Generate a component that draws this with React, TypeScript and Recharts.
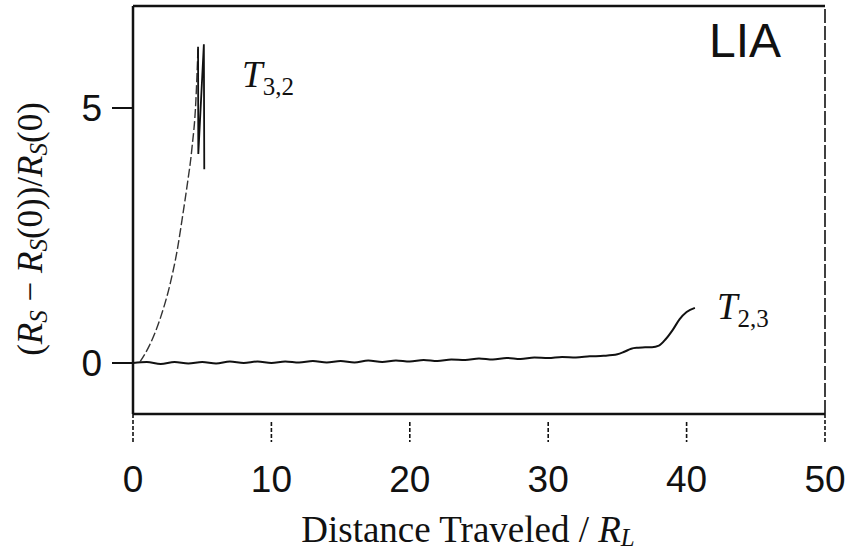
import React from 'react';
import { LineChart, Line, XAxis, YAxis, ReferenceLine, LabelList } from 'recharts';

// ---- data ----
const xTicks = [0, 10, 20, 30, 40, 50];
const yTicks = [0, 5];

const t23X = [0, 1, 2, 3, 4, 5, 6, 7, 8, 9, 10, 11, 12, 13, 14, 15, 16, 17, 18, 19, 20, 21, 22, 23, 24, 25, 26, 27, 28, 29, 30, 31, 32, 33, 34, 35, 35.5, 36, 36.5, 37, 37.5, 38, 38.5, 39, 39.5, 40, 40.6];
const t23Y = [0.0, 0.02, -0.02, 0.02, -0.01, 0.02, -0.01, 0.03, 0.0, 0.03, 0.0, 0.03, 0.01, 0.04, 0.01, 0.04, 0.01, 0.05, 0.02, 0.05, 0.03, 0.06, 0.04, 0.07, 0.06, 0.09, 0.07, 0.1, 0.08, 0.11, 0.1, 0.12, 0.11, 0.13, 0.14, 0.17, 0.22, 0.28, 0.3, 0.31, 0.31, 0.34, 0.47, 0.65, 0.86, 1.0, 1.08];

const t32RiseX = [0.5, 1.2, 2.0, 2.7, 3.2, 3.6, 3.9, 4.25, 4.55, 4.7];
const t32RiseY = [0.02, 0.35, 0.9, 1.57, 2.22, 2.91, 3.46, 4.19, 5.18, 6.2];

const t32SpikeX = [4.7, 4.72, 5.12, 5.15];
const t32SpikeY = [6.2, 4.1, 6.25, 3.8];

const t23Data = t23X.map((x, i) => ({ x, y: t23Y[i] }));
const t32RiseData = t32RiseX.map((x, i) => ({ x, y: t32RiseY[i] }));
const t32SpikeData = t32SpikeX.map((x, i) => ({ x, y: t32SpikeY[i] }));

const SANS = 'Liberation Sans, Arial, Helvetica, sans-serif';
const SERIF = 'Liberation Serif, Times New Roman, serif';
const INK = '#111';

const XTick = (props: any) => {
  const { x, y, payload } = props;
  const edge = payload.value === 0 || payload.value === 50;
  return (
    <g>
      <line x1={x} x2={x} y1={edge ? y : y + 8} y2={y + 28} stroke={INK} strokeWidth={1.6} strokeDasharray="4 2" />
      <text x={x} y={y + 78} textAnchor="middle" fontFamily={SANS} fontSize={37} fill={INK}>
        {payload.value}
      </text>
    </g>
  );
};

const YTick = (props: any) => {
  const { x, y, payload } = props;
  return (
    <text x={x} y={y + 13} textAnchor="end" fontFamily={SANS} fontSize={37} fill={INK}>
      {payload.value}
    </text>
  );
};

const YLabel = (props: any) => {
  const vb = props.viewBox || { x: 0, y: 6, width: 133, height: 408 };
  const cx = 42;
  const cy = vb.y + vb.height / 2 + 19;
  return (
    <text transform={`translate(${cx},${cy}) rotate(-90)`} textAnchor="middle" fontFamily={SERIF} fontSize={35} fill={INK}>
      (<tspan fontStyle="italic">R</tspan>
      <tspan fontStyle="italic" fontSize={25} dy={5}>S</tspan>
      <tspan dy={-5}> − </tspan>
      <tspan fontStyle="italic">R</tspan>
      <tspan fontStyle="italic" fontSize={25} dy={5}>S</tspan>
      <tspan dy={-5}>(0))/</tspan>
      <tspan fontStyle="italic">R</tspan>
      <tspan fontStyle="italic" fontSize={25} dy={5}>S</tspan>
      <tspan dy={-5}>(0)</tspan>
    </text>
  );
};

const XLabel = (props: any) => {
  const vb = props.viewBox || { x: 133, y: 414, width: 692, height: 139 };
  const cx = vb.x + vb.width / 2 - 11;
  return (
    <text x={cx} y={542} textAnchor="middle" fontFamily={SERIF} fontSize={37} fill={INK}>
      Distance Traveled / <tspan fontStyle="italic">R</tspan>
      <tspan fontStyle="italic" fontSize={25} dy={4}>L</tspan>
    </text>
  );
};

const LiaLabel = (props: any) => {
  const vb = props.viewBox || { x: 133, y: 6, width: 692 };
  return (
    <text x={vb.x + vb.width - 80} y={vb.y + 51} textAnchor="middle" fontFamily={SANS} fontSize={48} fill={INK}>
      LIA
    </text>
  );
};

const makeTag = (sub: string, lastIndex: number, dx: number, dy: number) => (props: any) => {
  const { x, y, index } = props;
  if (index !== lastIndex) return null;
  return (
    <text x={x + dx} y={y + dy} fontFamily={SERIF} fill={INK}>
      <tspan fontStyle="italic" fontSize={37}>T</tspan>
      <tspan fontSize={25} dy={8}>{sub}</tspan>
    </text>
  );
};

export default function App() {
  return (
    <div style={{ position: 'absolute', left: 0, top: 0, background: '#fff' }}>
      <LineChart width={847} height={553} margin={{ top: 6, right: 22, bottom: 0, left: 0 }}>
        <XAxis
          type="number"
          dataKey="x"
          domain={[0, 50]}
          ticks={xTicks}
          interval={0}
          height={139}
          axisLine={{ stroke: INK, strokeWidth: 2.5 }}
          tickLine={false}
          tickSize={0}
          tickMargin={0}
          tick={<XTick />}
          label={{ content: <XLabel /> }}
        />
        <YAxis
          type="number"
          dataKey="y"
          domain={[-1, 7]}
          ticks={yTicks}
          interval={0}
          width={133}
          axisLine={{ stroke: INK, strokeWidth: 2.5 }}
          tickLine={{ stroke: INK, strokeWidth: 2 }}
          tickSize={21}
          tickMargin={10}
          tick={<YTick />}
          label={{ content: <YLabel /> }}
        />
        <ReferenceLine y={7} stroke={INK} strokeWidth={2.5} label={{ content: <LiaLabel /> }} />
        <ReferenceLine x={50} stroke={INK} strokeWidth={1.6} strokeDasharray="14 3" />
        <Line
          data={t23Data}
          dataKey="y"
          type="monotone"
          stroke={INK}
          strokeWidth={2}
          dot={false}
          isAnimationActive={false}
        >
          <LabelList dataKey="y" content={makeTag('2,3', t23Data.length - 1, 22, 11)} />
        </Line>
        <Line
          data={t32RiseData}
          dataKey="y"
          type="monotone"
          stroke="#333"
          strokeWidth={1.4}
          strokeDasharray="9 3"
          dot={false}
          isAnimationActive={false}
        />
        <Line
          data={t32SpikeData}
          dataKey="y"
          type="linear"
          stroke={INK}
          strokeWidth={1.8}
          dot={false}
          isAnimationActive={false}
        >
          <LabelList dataKey="y" content={makeTag('3,2', 0, 44, 40)} />
        </Line>
      </LineChart>
    </div>
  );
}
